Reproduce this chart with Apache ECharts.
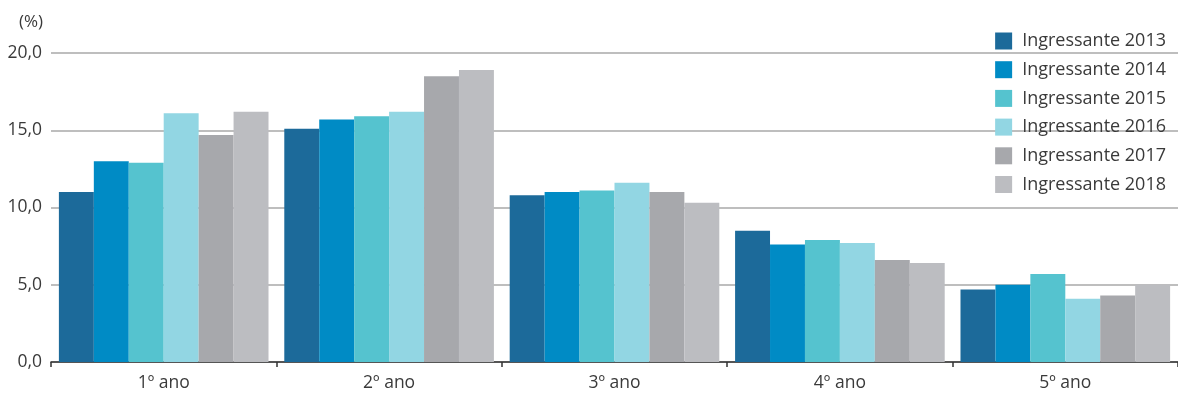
<!DOCTYPE html>
<html>
<head>
<meta charset="utf-8">
<script src="https://cdn.jsdelivr.net/npm/echarts@6/dist/echarts.min.js"></script>
<style>
  html, body { margin: 0; padding: 0; background: #ffffff; }
  #chart { width: 1178px; height: 394px; }
</style>
</head>
<body>
<div id="chart"></div>
<script>
// Course year categories
const categories = ['1º ano', '2º ano', '3º ano', '4º ano', '5º ano'];

// Share (%) per entry cohort, one value per course year
const cohort2013 = [11.0, 15.1, 10.8, 8.5, 4.7];
const cohort2014 = [13.0, 15.7, 11.0, 7.6, 5.0];
const cohort2015 = [12.9, 15.9, 11.1, 7.9, 5.7];
const cohort2016 = [16.1, 16.2, 11.6, 7.7, 4.1];
const cohort2017 = [14.7, 18.5, 11.0, 6.6, 4.3];
const cohort2018 = [16.2, 18.9, 10.3, 6.4, 5.0];

const seriesNames = ['Ingressante 2013', 'Ingressante 2014', 'Ingressante 2015',
                     'Ingressante 2016', 'Ingressante 2017', 'Ingressante 2018'];
const seriesData = [cohort2013, cohort2014, cohort2015, cohort2016, cohort2017, cohort2018];
const colors = ['#1c6a9a', '#008bc5', '#55c3cf', '#92d6e3', '#a7a8ac', '#bcbdc1'];

const yTicks = [0, 5, 10, 15, 20];

const textColor = '#3a3a3a';
const font = 'Open Sans';

const chart = echarts.init(document.getElementById('chart'));
chart.setOption({
  animation: false,
  color: colors,
  grid: { left: 51, right: -3, top: 53, bottom: 32, containLabel: false },
  legend: {
    orient: 'vertical',
    right: 12,
    top: 32,
    padding: 0,
    itemWidth: 17,
    itemHeight: 17,
    itemGap: 10.7,
    icon: 'rect',
    textStyle: { fontFamily: font, fontSize: 18, lineHeight: 18, color: textColor, padding: [0, 0, 0, 5] },
    data: seriesNames
  },
  xAxis: {
    type: 'category',
    data: categories,
    axisLine: { lineStyle: { color: '#333333', width: 1.5 } },
    axisTick: { show: true, length: 5, lineStyle: { color: '#333333', width: 1.5 } },
    axisLabel: { fontFamily: font, fontSize: 17.5, color: textColor, margin: 12 }
  },
  yAxis: {
    type: 'value',
    min: yTicks[0],
    max: yTicks[yTicks.length - 1],
    interval: 5,
    name: '(%)',
    nameLocation: 'end',
    nameGap: 22,
    nameTextStyle: { fontFamily: font, fontSize: 17, color: textColor, align: 'right', padding: [0, 8, 0, 0] },
    axisLine: { show: false },
    axisTick: { show: false },
    axisLabel: {
      fontFamily: font, fontSize: 17.5, color: textColor, margin: 9,
      formatter: v => v.toFixed(1).replace('.', ',')
    },
    splitLine: { lineStyle: { color: '#a9a9a9', width: 1.5 } }
  },
  series: seriesData.map((d, i) => ({
    name: seriesNames[i],
    type: 'bar',
    data: d,
    barGap: '0%',
    barCategoryGap: '7%',
    itemStyle: { color: colors[i] }
  }))
});
</script>
</body>
</html>
